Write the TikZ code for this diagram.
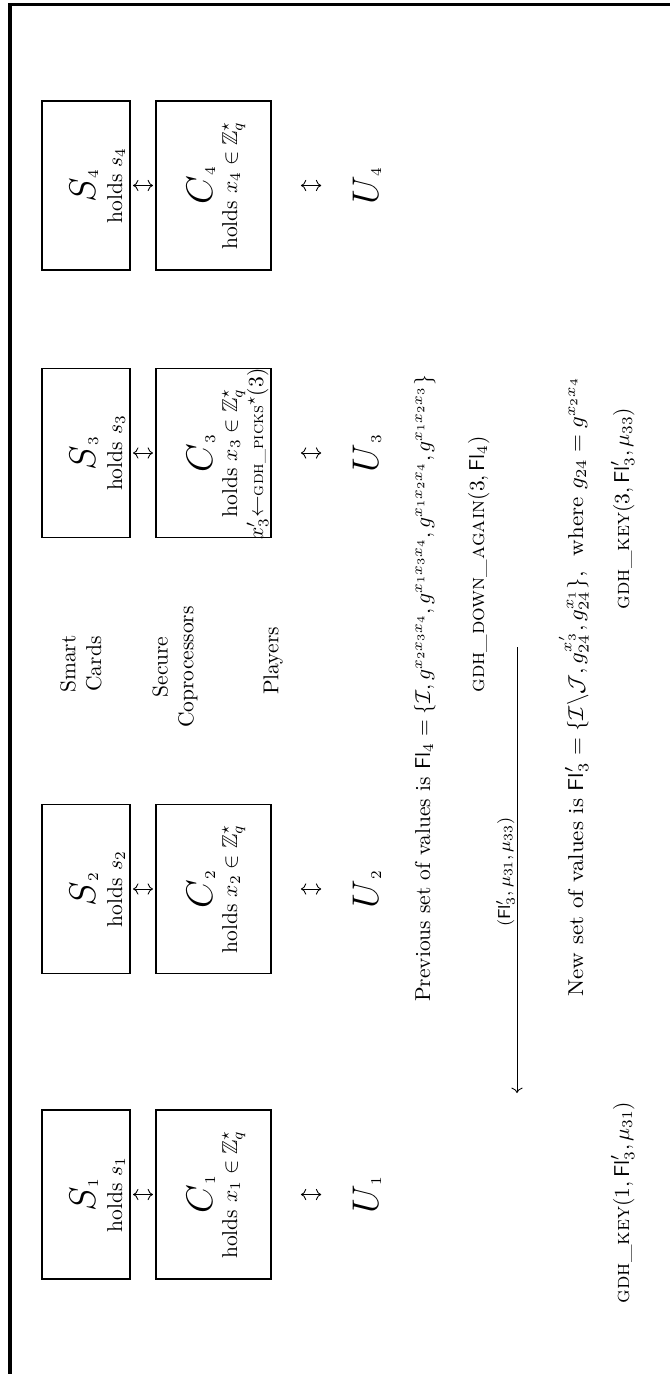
\documentclass[tikz,border=0pt]{standalone}
\usepackage{amsmath,amssymb}
\usetikzlibrary{arrows.meta}
\begin{document}
\begin{tikzpicture}[x=0.4651pt,y=-0.4651pt,
  box/.style={draw,line width=0.8pt,rectangle,inner sep=0pt,minimum height=78.6pt},
  sbox/.style={box,minimum width=41.07pt},
  cbox/.style={box,minimum width=53.5pt},
  txt/.style={rotate=90,anchor=base,inner sep=0pt},
  lbl/.style={rotate=90,align=center,inner sep=1pt},
  lnk/.style={{Computer Modern Rightarrow}-{Computer Modern Rightarrow},line width=0.4pt},
  flow/.style={-{Computer Modern Rightarrow},line width=0.4pt},
  frame/.style={line width=1.4pt}
]
\useasboundingbox (0,0) rectangle (670,1374);
\draw[frame] (10,1374) -- (10,4.5) -- (670,4.5);

% ---- column 1
\node[sbox] (S1) at (85.9,1194.5) {};
\node[cbox] (C1) at (213.5,1194.5) {};
\node[txt] (s1a) at (95,1194.5) {{\LARGE$S$}$_1$};
\node[txt] (s1b) at (122,1194.5) {holds $s_1$};
\node[txt] (c1a) at (212,1194.5) {{\LARGE$C$}$_1$};
\node[txt] (c1b) at (237,1194.5) {holds $x_1\in\mathbb{Z}_q^\star$};
\node[txt] (U1) at (378,1194.5) {{\LARGE$U$}$_1$};
% ---- column 2
\node[sbox] (S2) at (85.9,889) {};
\node[cbox] (C2) at (213.5,889) {};
\node[txt] (s2a) at (95,889) {{\LARGE$S$}$_2$};
\node[txt] (s2b) at (122,889) {holds $s_2$};
\node[txt] (c2a) at (212,889) {{\LARGE$C$}$_2$};
\node[txt] (c2b) at (237,889) {holds $x_2\in\mathbb{Z}_q^\star$};
\node[txt] (U2) at (378,889) {{\LARGE$U$}$_2$};
% ---- column 3
\node[sbox] (S3) at (85.9,453) {};
\node[cbox] (C3) at (213.5,453) {};
\node[txt] (s3a) at (95,453) {{\LARGE$S$}$_3$};
\node[txt] (s3b) at (122,453) {holds $s_3$};
\node[txt] (c3a) at (212,453) {{\LARGE$C$}$_3$};
\node[txt] (c3b) at (237,453) {holds $x_3\in\mathbb{Z}_q^\star$};
\node[txt] (c3c) at (263,454) {$x'_3{\leftarrow}$\textsc{\footnotesize gdh\_picks}$^\star(3)$};
\node[txt] (U3) at (378,453) {{\LARGE$U$}$_3$};
% ---- column 4
\node[sbox] (S4) at (85.9,185.5) {};
\node[cbox] (C4) at (213.5,185.5) {};
\node[txt] (s4a) at (95,185.5) {{\LARGE$S$}$_4$};
\node[txt] (s4b) at (122,185.5) {holds $s_4$};
\node[txt] (c4a) at (212,185.5) {{\LARGE$C$}$_4$};
\node[txt] (c4b) at (237,185.5) {holds $x_4\in\mathbb{Z}_q^\star$};
\node[txt] (U4) at (378,185.5) {{\LARGE$U$}$_4$};

% ---- links
\foreach \i in {1,2,3,4}{
  \draw[lnk,shorten <=1pt,shorten >=1pt] (S\i) -- (C\i);
  \draw[lnk,shorten <=13.5pt,shorten >=14.4pt] (C\i) -- (U\i);
}

% ---- row labels
\node[lbl] (lsc) at (81,664) {Smart\\Cards};
\node[lbl] (lcp) at (175,667) {Secure\\Coprocessors};
\node[lbl] (lpl) at (273,661) {Players};

% ---- middle texts
\node[txt] (prev) at (430,688.5) {Previous set of values is $\mathsf{Fl}_4=\{\mathcal{I},g^{x_2x_3x_4},g^{x_1x_3x_4},g^{x_1x_2x_4},g^{x_1x_2x_3}\}$};
\node[txt] (down) at (484,564.5) {\textsc{gdh\_down\_again}$(3,\mathsf{Fl}_4)$};
\coordinate (a1) at (517,647);
\coordinate (a2) at (517,1093);
\draw[flow] (a1) -- (a2);
\node[txt] (alab) at (510,872) {\footnotesize$(\mathsf{Fl}'_3,\mu_{31},\mu_{33})$};
\node[txt,anchor=base west,xscale=1.07] (new) at (583,997) {New set of values is $\mathsf{Fl}'_3=\{\mathcal{I}\backslash\mathcal{J},g_{24}^{x'_3},g_{24}^{x_1}\}$, \ where $g_{24}=g^{x_2x_4}$};
\node[txt] (key3) at (629,508.5) {\textsc{gdh\_key}$(3,\mathsf{Fl}'_3,\mu_{33})$};
\node[txt] (key1) at (629,1202.5) {\textsc{gdh\_key}$(1,\mathsf{Fl}'_3,\mu_{31})$};
\end{tikzpicture}
\end{document}
